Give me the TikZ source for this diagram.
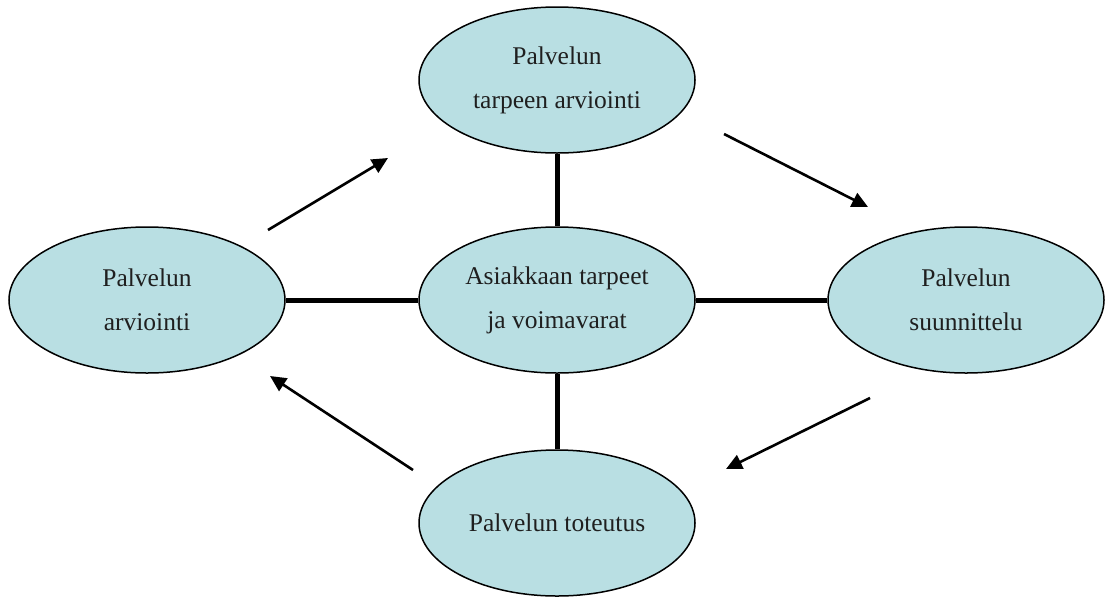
\documentclass[tikz,border=0pt]{standalone}
\usepackage{fontspec}
\setmainfont{Liberation Serif}
\usetikzlibrary{shapes.geometric,arrows.meta}
\definecolor{fillblue}{HTML}{B9DFE3}
\begin{document}
\begin{tikzpicture}[x=1pt,y=-1pt,
  oval/.style={ellipse,draw=black,line width=1.5pt,fill=fillblue,inner sep=0pt,
    minimum width=276pt,minimum height=146pt,align=center,
    font=\fontsize{25.5}{44}\selectfont,text=black!88},
  link/.style={line width=5pt},
  flow/.style={line width=2.6pt,-{Triangle[length=16pt,width=15pt]}}]
\useasboundingbox (0,0) rectangle (1107,600);
\node[oval] (top) at (557,80) {Palvelun\\ tarpeen arviointi};
\node[oval] (left) at (147,300) {Palvelun\\ arviointi};
\node[oval] (center) at (557,300) {Asiakkaan tarpeet\\ ja voimavarat};
\node[oval] (right) at (966,300) {Palvelun\\ suunnittelu};
\node[oval] (bottom) at (557,523) {Palvelun toteutus};
\draw[link] (top.south) -- (center.north);
\draw[link] (center.south) -- (bottom.north);
\draw[link] (left.east) -- (center.west);
\draw[link] (center.east) -- (right.west);
\coordinate (a1s) at (268,230); \coordinate (a1e) at (388,158);
\coordinate (a2s) at (724,134); \coordinate (a2e) at (868,207);
\coordinate (a3s) at (870,398); \coordinate (a3e) at (726,469);
\coordinate (a4s) at (413,470); \coordinate (a4e) at (270,376);
\draw[flow] (a1s) -- (a1e);
\draw[flow] (a2s) -- (a2e);
\draw[flow] (a3s) -- (a3e);
\draw[flow] (a4s) -- (a4e);
\end{tikzpicture}
\end{document}
